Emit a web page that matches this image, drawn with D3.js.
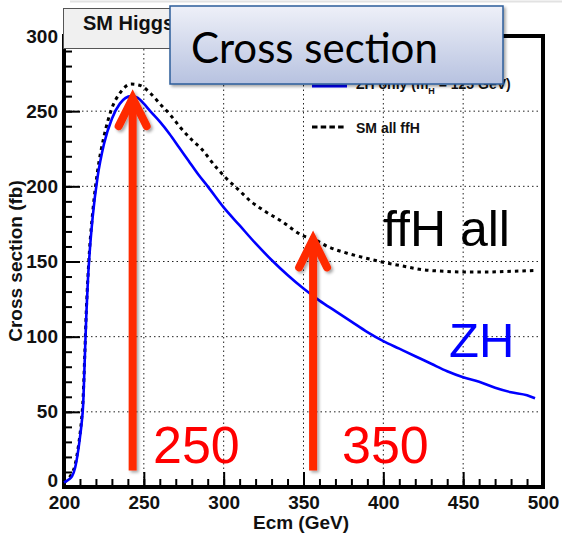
<!DOCTYPE html>
<html>
<head>
<meta charset="utf-8">
<script src="https://cdn.jsdelivr.net/npm/d3@7"></script>
<style>
  html, body { margin: 0; padding: 0; background: #ffffff; }
  svg { display: block; }
</style>
</head>
<body>
<svg id="chart" width="562" height="537"></svg>
<script>
// ---------------- data ----------------
const energyZH = [200, 203, 205, 207, 209, 210, 211, 212, 213, 214, 215, 216, 218, 221, 225, 230, 235, 242, 246, 250, 254, 260, 266, 272, 278, 284, 290, 300, 310, 320, 330, 340, 350, 360, 370, 380, 390, 400, 410, 420, 430, 440, 450, 460, 470, 480, 490, 495];
const sigmaZH  = [3, 5, 7, 13, 25, 33, 42, 55, 85, 115, 138, 155, 180, 206, 228, 245, 255, 260, 259, 255, 250, 243, 235, 226, 217, 208, 200, 186, 174, 162, 151, 141, 132, 124, 117, 110, 103, 97, 92, 87, 82, 77, 73, 70, 66, 63, 61, 59];

const energyFFH = [200, 203, 205, 207, 209, 210, 211, 212, 213, 214, 215, 216, 218, 221, 225, 230, 235, 242, 248, 254, 260, 267, 273, 280, 286, 295, 301, 310, 317, 325, 336, 350, 356, 365, 379, 390, 400, 412, 425, 438, 450, 465, 480, 494];
const sigmaFFH  = [3, 6, 9, 15, 27, 35, 45, 60, 88, 118, 140, 158, 183, 210, 233, 252, 262, 268, 267, 262, 255, 247, 239, 231, 225, 213, 206, 197, 190, 184, 177, 167, 165, 160, 155, 152, 149.5, 147, 144.5, 143.5, 143, 143, 143.5, 144];

const xMajorTicks = [200, 250, 300, 350, 400, 450, 500];
const yMajorTicks = [0, 50, 100, 150, 200, 250, 300];
const xTitle = "Ecm (GeV)";
const yTitle = "Cross section (fb)";
const plotTitle = "SM Higgs";
const overlayTitle = "Cross section";
const legendLabels = ["ZH only (m", "H", " = 125 GeV)"];
const legendLabel2 = "SM all ffH";

// annotation arrows (energy, tip value) and labels
const arrowEnergy = [243, 356];
const arrowTip = [260, 166];
const arrowBase = 11;
const arrowLabels = ["250", "350"];

// ---------------- drawing ----------------
const svg = d3.select("#chart");
const x = d3.scaleLinear().domain([200, 500]).range([64, 543]);
const y = d3.scaleLinear().domain([0, 300]).range([487, 36]);

const defs = svg.append("defs");
const shadow = defs.append("filter").attr("id", "shadow")
  .attr("x", "-20%").attr("y", "-20%").attr("width", "150%").attr("height", "150%");
shadow.append("feDropShadow").attr("dx", 2).attr("dy", 2).attr("stdDeviation", 1.6)
  .attr("flood-color", "#000").attr("flood-opacity", 0.35);
const grad = defs.append("linearGradient").attr("id", "boxgrad")
  .attr("x1", 0).attr("y1", 0).attr("x2", 0).attr("y2", 1);
grad.append("stop").attr("offset", "0%").attr("stop-color", "#eef0f8");
grad.append("stop").attr("offset", "100%").attr("stop-color", "#b7c2e0");

// faint line at very top
svg.append("line").attr("x1", 70).attr("x2", 562).attr("y1", 1.5).attr("y2", 1.5)
  .attr("stroke", "#e2e2e2").attr("stroke-width", 2);

// grid lines
const gridX = xMajorTicks.filter(d => d > 200 && d < 500);
const gridY = yMajorTicks.filter(d => d > 0 && d < 300);
svg.append("g").selectAll("line").data(gridX).join("line")
  .attr("x1", d => x(d)).attr("x2", d => x(d))
  .attr("y1", y(0)).attr("y2", y(300))
  .attr("stroke", "#222").attr("stroke-width", 1).attr("stroke-dasharray", "1.5,3");
svg.append("g").selectAll("line").data(gridY).join("line")
  .attr("x1", x(200)).attr("x2", x(500))
  .attr("y1", d => y(d)).attr("y2", d => y(d))
  .attr("stroke", "#222").attr("stroke-width", 1).attr("stroke-dasharray", "1.5,3");

// axes
const fontAxis = "'Liberation Sans', Arial, Helvetica, sans-serif";
const yMinor = d3.range(0, 301, 10);
const xMinor = d3.range(200, 501, 10);

svg.append("g").attr("transform", `translate(${x(200)},0)`)
  .call(d3.axisLeft(y).tickValues(yMinor).tickSize(-8).tickFormat(""))
  .call(g => g.select(".domain").remove())
  .call(g => g.selectAll("line").attr("stroke", "#000").attr("stroke-width", 2));
svg.append("g").attr("transform", `translate(${x(200)},0)`)
  .call(d3.axisLeft(y).tickValues(yMajorTicks).tickSize(-16).tickPadding(6).tickFormat(d3.format("d")))
  .call(g => g.select(".domain").remove())
  .call(g => g.selectAll("line").attr("stroke", "#000").attr("stroke-width", 2))
  .call(g => g.selectAll("text").attr("font-family", fontAxis).attr("font-weight", "bold")
    .attr("font-size", 19).attr("fill", "#111"))
  .call(g => g.selectAll(".tick").filter(d => d === 0).select("text").attr("dy", "-0.05em"));

svg.append("g").attr("transform", `translate(0,${y(0)})`)
  .call(d3.axisBottom(x).tickValues(xMinor).tickSize(-8).tickFormat(""))
  .call(g => g.select(".domain").remove())
  .call(g => g.selectAll("line").attr("stroke", "#000").attr("stroke-width", 2));
svg.append("g").attr("transform", `translate(0,${y(0)})`)
  .call(d3.axisBottom(x).tickValues(xMajorTicks).tickSize(-15).tickPadding(9).tickFormat(d3.format("d")))
  .call(g => g.select(".domain").remove())
  .call(g => g.selectAll("line").attr("stroke", "#000").attr("stroke-width", 2))
  .call(g => g.selectAll("text").attr("font-family", fontAxis).attr("font-weight", "bold")
    .attr("font-size", 19).attr("fill", "#111"));

// frame
svg.append("rect").attr("x", x(200)).attr("y", y(300))
  .attr("width", x(500) - x(200)).attr("height", y(0) - y(300))
  .attr("fill", "none").attr("stroke", "#000").attr("stroke-width", 4);

// axis titles
svg.append("text").attr("x", 301).attr("y", 529).attr("text-anchor", "middle")
  .attr("font-family", fontAxis).attr("font-weight", "bold").attr("font-size", 19)
  .attr("fill", "#111").text(xTitle);
svg.append("text").attr("transform", "translate(15,261) rotate(-90)")
  .attr("text-anchor", "middle").attr("dominant-baseline", "central")
  .attr("font-family", fontAxis).attr("font-weight", "bold").attr("font-size", 19)
  .attr("fill", "#111").text(yTitle);

// curves
const lineZH = d3.line().x((d, i) => x(energyZH[i])).y(d => y(d)).curve(d3.curveMonotoneX);
const lineFFH = d3.line().x((d, i) => x(energyFFH[i])).y(d => y(d)).curve(d3.curveMonotoneX);
svg.append("path").attr("d", lineFFH(sigmaFFH)).attr("fill", "none")
  .attr("stroke", "#000").attr("stroke-width", 3).attr("stroke-dasharray", "3.5,4");
svg.append("path").attr("d", lineZH(sigmaZH)).attr("fill", "none")
  .attr("stroke", "#0000ff").attr("stroke-width", 2.6);

// legend
svg.append("line").attr("x1", 312).attr("x2", 347).attr("y1", 86).attr("y2", 86)
  .attr("stroke", "#0000ff").attr("stroke-width", 3);
const lt = svg.append("text").attr("x", 356).attr("y", 89)
  .attr("font-family", fontAxis).attr("font-weight", "bold").attr("font-size", 14).attr("fill", "#111");
lt.append("tspan").text(legendLabels[0]);
lt.append("tspan").attr("dy", 5).attr("font-size", 9).text(legendLabels[1]);
lt.append("tspan").attr("dy", -5).text(legendLabels[2]);
svg.append("line").attr("x1", 312).attr("x2", 344).attr("y1", 127).attr("y2", 127)
  .attr("stroke", "#000").attr("stroke-width", 3).attr("stroke-dasharray", "5.5,3.2");
svg.append("text").attr("x", 356).attr("y", 133)
  .attr("font-family", fontAxis).attr("font-weight", "bold").attr("font-size", 14)
  .attr("fill", "#111").text(legendLabel2);

// title box (ROOT pave)
svg.append("rect").attr("x", 63.5).attr("y", 8.5).attr("width", 260).attr("height", 40)
  .attr("fill", "#f0f0f0").attr("stroke", "#555").attr("stroke-width", 1);
svg.append("text").attr("x", 83).attr("y", 30)
  .attr("font-family", fontAxis).attr("font-weight", "bold").attr("font-size", 20)
  .attr("fill", "#111").text(plotTitle);

// big annotation texts
svg.append("text").attr("x", 383).attr("y", 246)
  .attr("font-family", fontAxis).attr("font-size", 50).attr("fill", "#000").text("ffH all");
svg.append("text").attr("x", 449).attr("y", 357)
  .attr("font-family", fontAxis).attr("font-size", 49).attr("fill", "#0000ff").text("ZH");

// arrows
const arrows = svg.append("g").attr("filter", "url(#shadow)");
arrowEnergy.forEach((e, i) => {
  const xa = x(e), yt = y(arrowTip[i]), yb = y(arrowBase);
  arrows.append("line").attr("x1", xa).attr("x2", xa).attr("y1", yb).attr("y2", yt + 3)
    .attr("stroke", "#ff2a00").attr("stroke-width", 8);
  arrows.append("path")
    .attr("d", `M${xa - 14},${yt + 30} L${xa},${yt + 2} L${xa + 14},${yt + 30}`)
    .attr("fill", "none").attr("stroke", "#ff2a00").attr("stroke-width", 8)
    .attr("stroke-linecap", "round").attr("stroke-linejoin", "miter");
});
const labelX = [153, 342];
arrowLabels.forEach((t, i) => {
  svg.append("text").attr("x", labelX[i]).attr("y", 463)
    .attr("font-family", fontAxis).attr("font-size", 52).attr("fill", "#ff0000").text(t);
});

// overlay "Cross section" box
svg.append("rect").attr("x", 170).attr("y", 6).attr("width", 333).attr("height", 78)
  .attr("fill", "url(#boxgrad)").attr("stroke", "#2c5d9a").attr("stroke-width", 1.5)
  .attr("filter", "url(#shadow)");
svg.append("text").attr("x", 191).attr("y", 63)
  .attr("font-family", "Lato, 'Open Sans', sans-serif").attr("font-size", 42)
  .attr("fill", "#000").text(overlayTitle);
</script>
</body>
</html>
